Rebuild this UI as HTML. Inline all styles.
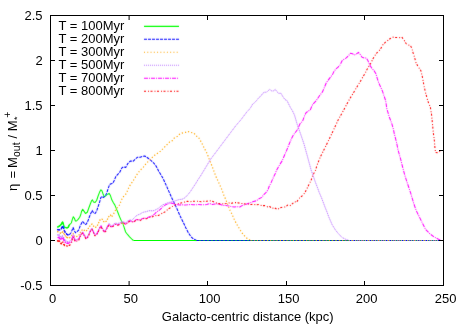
<!DOCTYPE html>
<html><head><meta charset="utf-8">
<style>
html,body{margin:0;padding:0;background:#fff;}
svg{display:block;}
text{font-family:"Liberation Sans",sans-serif;font-size:13.0px;fill:#000;}
</style></head>
<body>
<svg width="467" height="327" viewBox="0 0 467 327">
<rect width="467" height="327" fill="#fff"/>
<defs><filter id="bl" filterUnits="userSpaceOnUse" x="0" y="0" width="467" height="327"><feConvolveMatrix order="3" kernelMatrix="0.015 0.055 0.015 0.055 0.72 0.055 0.015 0.055 0.015" divisor="1" edgeMode="none" preserveAlpha="false"/></filter></defs>
<g fill="none" stroke-width="1.05" stroke-linejoin="round" filter="url(#bl)">
<path d="M57.3 227.2 L58.4 226.7 L59.8 225.8 L61.2 224.4 L61.9 223.0 L62.6 222.1 L63.2 223.5 L63.7 225.8 L64.4 227.2 L65.8 227.6 L67.1 227.9 L68.3 227.2 L69.2 224.9 L70.3 224.0 L71.3 223.0 L72.2 219.9 L73.3 216.7 L74.4 218.3 L75.4 221.0 L76.5 221.0 L78.1 219.4 L79.7 217.2 L80.8 214.5 L81.5 211.6 L82.7 209.2 L84.3 211.6 L85.5 213.5 L87.3 212.2 L88.8 208.0 L90.4 203.7 L91.6 200.6 L92.5 199.9 L93.5 202.1 L95.1 202.4 L96.6 200.5 L98.1 196.0 L99.6 192.1 L100.9 189.8 L101.9 190.6 L103.0 193.7 L104.2 196.7 L105.7 196.0 L107.3 194.4 L109.1 193.4 L110.3 195.2 L111.8 199.8 L113.4 202.8 L114.9 205.1 L116.4 208.9 L118.0 212.7 L119.5 216.6 L121.0 220.0 L122.9 223.7 L124.3 227.8 L125.6 232.0 L127.7 234.7 L129.6 236.8 L132.2 239.5 L133.5 240.5" stroke="#00ff00"/>
<path d="M57.3 227.2 L58.4 226.7 L59.8 225.8 L61.2 224.4 L61.9 223.0 L62.6 222.1 L63.2 223.5 L63.7 225.8 L64.4 227.2 L65.8 227.6 L67.1 227.9 L68.3 227.2 L69.2 224.9" stroke="#00ff00" stroke-width="1.4"/>
<path d="M57.3 229.5 L58.4 229.9 L59.8 229.7 L61.2 228.8 L62.1 227.2 L62.8 225.8 L63.5 227.6 L64.1 229.9 L64.8 231.8 L65.8 233.1 L67.1 234.5 L68.5 235.0 L69.9 234.3 L71.1 232.7 L73.1 227.4 L74.1 230.1 L75.4 232.8 L77.0 231.7 L78.7 230.1 L80.0 226.3 L81.2 223.9 L82.4 221.4 L83.7 222.6 L84.9 224.5 L86.4 223.9 L88.0 220.8 L89.5 216.5 L91.0 212.9 L92.2 210.4 L93.5 212.7 L95.1 213.5 L96.6 211.2 L98.1 206.6 L99.6 202.1 L100.9 197.5 L101.9 196.3 L103.5 197.5 L105.0 196.0 L106.5 193.7 L108.0 189.1 L109.6 184.5 L111.1 183.7 L112.6 183.4 L114.1 180.7 L115.7 176.9 L117.3 174.8 L119.6 172.5 L121.9 167.9 L123.4 166.9 L125.7 167.5 L128.0 163.3 L130.3 161.1 L133.3 161.1 L135.6 158.8 L137.6 157.2 L140.2 157.2 L142.5 156.5 L144.8 156.0 L147.1 157.5 L149.4 159.1 L151.7 161.1 L154.0 163.3 L156.3 166.4 L158.6 171.0 L160.9 174.8 L163.2 178.6 L164.1 180.7 L166.9 186.9 L169.6 193.1 L172.4 199.3 L175.1 204.8 L177.9 210.9 L180.6 217.1 L183.4 222.6 L185.9 228.0 L188.5 233.0 L190.9 236.6 L193.5 239.0 L196.5 240.5" stroke="#0000ff" stroke-dasharray="3 1"/>
<path d="M57.3 229.5 L58.4 229.9 L59.8 229.7 L61.2 228.8 L62.1 227.2 L62.8 225.8 L63.5 227.6 L64.1 229.9 L64.8 231.8 L65.8 233.1 L67.1 234.5 L68.5 235.0 L69.9 234.3" stroke="#0000ff" stroke-width="1.4" stroke-dasharray="3 1"/>
<path d="M57.3 231.3 L58.9 232.2 L60.3 233.1 L61.2 233.6 L62.1 232.2 L63.0 231.8 L63.9 233.6 L65.3 235.9 L66.7 237.3 L68.1 238.2 L69.4 237.7 L70.8 236.8 L72.2 234.9 L73.1 233.3 L74.4 236.0 L76.0 237.0 L77.6 236.0 L79.2 234.9 L80.0 233.0 L81.5 230.6 L83.1 229.4 L84.3 230.4 L85.9 231.2 L87.3 230.0 L89.2 226.9 L91.0 224.5 L92.2 224.2 L93.7 226.3 L95.3 227.5 L97.1 226.3 L98.4 223.3 L100.2 219.6 L102.0 219.0 L103.5 221.4 L105.1 222.3 L106.7 220.8 L107.3 219.6 L108.8 216.6 L110.3 215.0 L111.8 216.6" stroke="#ffa500" stroke-width="1.2" stroke-dasharray="1.3 1.5"/>
<path d="M111.8 216.6 L113.4 214.3 L114.9 211.2 L116.4 208.9 L118.0 206.6 L119.5 205.1 L121.0 201.3 L122.5 197.5 L124.1 196.0 L125.6 194.4 L126.5 193.2 L128.0 189.3 L130.3 184.8 L132.6 181.7 L134.9 177.9 L137.2 174.1 L140.2 170.2 L143.3 167.2 L146.3 163.3 L149.4 160.3 L152.5 157.2 L155.5 154.5 L158.6 152.6 L160.0 151.6 L162.8 148.9 L166.2 145.4 L169.6 142.0 L172.4 140.6 L174.4 137.9 L177.2 136.5 L179.3 134.4 L182.0 133.1 L185.4 132.4 L187.5 131.3 L190.9 132.4 L194.1 133.3 L195.8 135.8 L198.5 137.2 L199.9 139.9 L201.3 142.0 L202.9 145.4 L204.3 148.2 L206.1 151.6 L207.5 154.4 L208.4 157.1 L209.5 159.9 L210.9 163.3 L212.6 167.6 L215.7 176.0 L219.8 185.0 L221.9 189.8 L223.9 195.3 L226.0 200.1 L228.1 205.6 L230.1 210.4 L232.2 214.6 L234.3 219.4 L236.3 223.5 L238.4 227.0 L240.5 230.5 L243.0 234.2 L246.0 237.5 L249.0 239.5 L250.5 240.5" stroke="#ffa500" stroke-width="1.2" stroke-dasharray="1.2 2.07"/>
<path d="M57.3 231.3 L58.9 232.2 L60.3 233.1 L61.2 233.6 L62.1 232.2 L63.0 231.8 L63.9 233.6 L65.3 235.9 L66.7 237.3 L68.1 238.2 L69.4 237.7" stroke="#ffa500" stroke-width="1.4" stroke-dasharray="1 2.27"/>
<path d="M57.7 234.5 L58.4 235.9 L59.3 235.0 L60.3 236.8 L61.2 237.6 L62.1 235.9 L63.0 236.4 L63.9 238.3 L65.3 240.5 L66.7 241.8 L68.5 241.8 L70.3 240.8 L71.7 239.4 L72.2 237.0 L73.3 234.5 L74.4 237.8 L75.4 240.1 L77.0 239.3 L78.7 238.8 L80.0 235.9 L81.2 233.4 L82.7 231.9 L84.3 234.6 L85.9 237.7 L87.3 237.0 L88.8 234.0 L90.4 230.3 L92.0 228.2 L93.5 231.5 L94.9 234.6 L96.5 234.0 L98.1 230.9 L99.6 227.3 L101.1 225.4 L102.6 228.5 L104.1 230.9 L105.7 230.3 L107.1 226.9 L109.1 223.5 L111.2 226.2 L113.3 224.5 L115.3 223.0 L117.4 223.6 L119.4 223.0 L121.5 221.8 L123.6 221.8 L125.6 222.8 L127.7 221.0 L129.8 219.8 L131.8 220.5 L133.9 218.2 L135.9 216.1 L138.0 214.8 L140.1 214.1 L142.1 212.7 L144.2 212.0 L146.3 211.7 L148.3 210.9 L150.4 210.6 L152.5 210.9 L154.5 210.4 L156.6 209.3 L158.6 208.2 L160.0 206.8 L162.8 204.8 L165.5 203.7 L168.3 202.7 L171.0 202.0 L173.8 201.3 L176.5 200.4 L179.3 199.5 L182.0 199.3 L184.8 197.9 L187.5 195.1 L190.3 191.7 L193.0 187.6 L195.8 183.4 L197.8 180.0 L200.5 176.0 L205.6 167.6 L210.6 159.2 L215.7 152.5 L220.7 145.8 L225.8 139.0 L230.8 132.3 L235.9 125.6 L240.9 119.8 L245.0 114.4 L247.1 111.6 L249.1 109.6 L251.2 106.8 L252.6 104.1 L254.6 102.7 L256.7 100.4 L258.8 97.6 L260.8 96.2 L262.9 93.1 L264.9 92.1 L266.3 92.4 L267.7 91.0 L269.8 89.4 L271.8 91.0 L273.2 91.0 L275.3 89.4 L276.9 91.7 L278.7 93.3 L281.0 93.3 L282.8 96.5 L284.9 99.5 L287.0 100.6 L288.7 104.1 L290.4 107.5 L292.5 110.9 L294.5 115.1 L295.9 119.9 L297.3 124.7 L300.6 134.0 L304.0 144.0 L307.3 155.9 L311.1 170.0 L313.1 175.5 L315.2 181.7 L317.3 187.2 L319.3 192.7 L321.4 197.5 L323.5 203.0 L325.0 207.1 L327.0 212.0 L328.8 217.0 L332.2 224.8 L335.6 230.2 L338.9 234.3 L342.3 237.6 L345.7 239.3 L349.0 240.5" stroke="#c080ff" stroke-width="1" stroke-opacity="0.3"/>
<path d="M57.7 234.5 L58.4 235.9 L59.3 235.0 L60.3 236.8 L61.2 237.6 L62.1 235.9 L63.0 236.4 L63.9 238.3 L65.3 240.5 L66.7 241.8 L68.5 241.8 L70.3 240.8 L71.7 239.4 L72.2 237.0 L73.3 234.5 L74.4 237.8 L75.4 240.1 L77.0 239.3 L78.7 238.8 L80.0 235.9 L81.2 233.4 L82.7 231.9 L84.3 234.6 L85.9 237.7 L87.3 237.0 L88.8 234.0 L90.4 230.3 L92.0 228.2 L93.5 231.5 L94.9 234.6 L96.5 234.0 L98.1 230.9 L99.6 227.3 L101.1 225.4 L102.6 228.5 L104.1 230.9 L105.7 230.3 L107.1 226.9 L109.1 223.5 L111.2 226.2 L113.3 224.5 L115.3 223.0 L117.4 223.6 L119.4 223.0 L121.5 221.8 L123.6 221.8 L125.6 222.8 L127.7 221.0 L129.8 219.8 L131.8 220.5 L133.9 218.2 L135.9 216.1 L138.0 214.8 L140.1 214.1 L142.1 212.7 L144.2 212.0 L146.3 211.7 L148.3 210.9 L150.4 210.6 L152.5 210.9 L154.5 210.4 L156.6 209.3 L158.6 208.2 L160.0 206.8 L162.8 204.8 L165.5 203.7 L168.3 202.7 L171.0 202.0 L173.8 201.3 L176.5 200.4 L179.3 199.5 L182.0 199.3 L184.8 197.9 L187.5 195.1 L190.3 191.7 L193.0 187.6 L195.8 183.4 L197.8 180.0 L200.5 176.0 L205.6 167.6 L210.6 159.2 L215.7 152.5 L220.7 145.8 L225.8 139.0 L230.8 132.3 L235.9 125.6 L240.9 119.8 L245.0 114.4 L247.1 111.6 L249.1 109.6 L251.2 106.8 L252.6 104.1 L254.6 102.7 L256.7 100.4 L258.8 97.6 L260.8 96.2 L262.9 93.1 L264.9 92.1 L266.3 92.4 L267.7 91.0 L269.8 89.4 L271.8 91.0 L273.2 91.0 L275.3 89.4 L276.9 91.7 L278.7 93.3 L281.0 93.3 L282.8 96.5 L284.9 99.5 L287.0 100.6 L288.7 104.1 L290.4 107.5 L292.5 110.9 L294.5 115.1 L295.9 119.9 L297.3 124.7 L300.6 134.0 L304.0 144.0 L307.3 155.9 L311.1 170.0 L313.1 175.5 L315.2 181.7 L317.3 187.2 L319.3 192.7 L321.4 197.5 L323.5 203.0 L325.0 207.1 L327.0 212.0 L328.8 217.0 L332.2 224.8 L335.6 230.2 L338.9 234.3 L342.3 237.6 L345.7 239.3 L349.0 240.5" stroke="#c080ff" stroke-width="1" stroke-dasharray="1 1"/>
<path d="M57.7 234.5 L58.4 235.9 L59.3 235.0 L60.3 236.8 L61.2 237.6 L62.1 235.9 L63.0 236.4 L63.9 238.3 L65.3 240.5 L66.7 241.8 L68.5 241.8" stroke="#c080ff" stroke-width="1.4" stroke-dasharray="1 1"/>
<path d="M57.7 237.7 L58.9 237.3 L59.8 238.6 L61.2 239.6 L62.1 237.7 L63.0 238.2 L63.9 240.0 L65.3 242.3 L66.7 243.2 L68.5 243.2 L70.3 242.3 L71.7 240.9 L72.2 238.1 L73.3 235.4 L74.4 238.7 L75.4 240.8 L77.0 239.9 L78.7 239.4 L80.0 236.5 L81.2 234.1 L82.7 232.6 L84.3 235.3 L85.9 238.4 L87.3 237.7 L88.8 234.7 L90.4 231.0 L92.0 228.9 L93.5 232.2 L94.9 235.3 L96.5 234.7 L98.1 231.6 L99.6 228.0 L101.1 226.1 L102.6 229.2 L104.1 231.6 L105.7 231.0 L107.1 227.6 L109.1 224.2 L111.2 226.9 L113.3 225.8 L115.3 223.9 L117.4 224.9 L119.4 224.2 L121.5 222.8 L123.6 222.8 L125.6 224.2 L127.7 222.1 L129.8 220.7 L131.8 221.4 L133.9 221.7 L135.9 219.8 L138.0 219.4 L140.1 220.1 L142.1 218.7 L144.2 218.0 L146.3 218.4 L148.3 217.3 L150.4 216.6 L152.5 215.4 L154.5 214.1 L156.6 212.0 L158.6 210.6 L160.0 209.6 L162.8 206.8 L165.5 204.8 L168.3 203.7 L171.0 203.1 L173.8 203.7 L176.5 204.5 L179.3 205.0 L182.0 204.8 L184.8 205.0 L187.5 204.8 L190.3 204.5 L193.0 204.8 L195.8 204.8 L198.5 204.5 L201.3 204.8 L204.0 204.8 L206.8 204.5 L209.5 203.4 L212.3 204.5 L215.0 204.0 L217.8 204.0 L220.5 204.5 L223.3 205.4 L226.0 205.6 L228.8 205.9 L231.5 206.7 L234.3 207.0 L237.0 206.7 L239.8 207.0 L242.5 205.4 L245.3 204.5 L248.0 203.6 L250.8 202.6 L253.5 201.5 L256.3 200.8 L259.0 198.8 L261.8 197.4 L263.8 194.6 L265.9 192.6 L268.0 189.8 L269.1 186.5 L271.2 182.4 L273.3 177.6 L275.3 173.4 L276.7 170.0 L279.5 165.0 L282.1 160.9 L286.7 150.2 L289.2 144.0 L291.7 138.2 L293.4 135.0 L295.5 132.2 L297.6 129.5 L299.0 126.0 L300.1 123.6 L302.6 121.1 L304.3 116.5 L306.0 112.8 L308.0 111.2 L310.2 110.1 L311.5 107.0 L312.7 104.4 L316.1 100.9 L317.8 98.2 L319.5 95.8 L322.5 91.9 L326.4 82.6 L328.4 79.9 L330.5 77.1 L332.6 74.4 L333.9 71.6 L336.0 68.9 L338.1 67.2 L340.1 64.8 L342.2 60.6 L344.3 59.0 L346.3 57.9 L348.4 55.8 L350.4 53.3 L352.5 53.8 L354.6 54.9 L356.6 53.8 L358.4 52.4 L360.1 54.4 L362.1 57.2 L364.2 57.9 L366.3 57.9 L367.9 60.6 L369.7 64.8 L371.8 68.2 L373.8 70.3 L375.9 73.7 L377.3 78.5 L378.6 82.6 L382.3 90.7 L385.7 100.8 L386.8 108.6 L389.3 117.0 L391.8 123.7 L393.5 129.6 L394.2 133.4 L396.4 141.8 L398.1 150.2 L400.5 158.6 L402.6 167.0 L404.7 175.0 L407.5 183.6 L410.7 193.2 L413.9 203.9 L416.1 210.3 L419.3 216.8 L422.5 223.2 L425.7 229.6 L430.0 233.9 L434.3 237.1 L438.5 239.2 L441.1 240.3" stroke="#ff00ff" stroke-dasharray="4 1 1 1"/>
<path d="M57.7 237.7 L58.9 237.3 L59.8 238.6 L61.2 239.6 L62.1 237.7 L63.0 238.2 L63.9 240.0 L65.3 242.3 L66.7 243.2 L68.5 243.2" stroke="#ff00ff" stroke-width="1.4" stroke-dasharray="4 1 1 1"/>
<path d="M57.7 240.0 L58.4 242.3 L59.3 240.9 L60.3 242.8 L61.2 243.7 L62.1 241.4 L63.0 242.3 L63.9 244.6 L64.8 245.5 L66.2 245.1 L67.1 246.0 L68.5 245.5 L69.9 245.1 L71.3 244.0 L72.2 239.7 L73.3 236.9 L74.4 240.0 L75.4 242.0 L77.0 240.9 L78.7 240.2 L80.0 237.2 L81.2 234.6 L82.7 233.1 L84.3 235.8 L85.9 238.8 L87.3 238.2 L88.8 235.2 L90.4 231.4 L92.0 229.3 L93.5 232.7 L94.9 235.8 L96.5 235.2 L98.1 232.1 L99.6 228.4 L101.1 226.6 L102.6 229.7 L104.1 232.1 L105.7 231.4 L107.1 228.1 L109.1 224.7 L111.2 227.3 L113.3 226.2 L115.3 224.3 L117.4 225.3 L119.4 224.7 L121.5 223.2 L123.6 223.2 L125.6 224.7 L127.7 222.6 L129.8 221.2 L131.8 221.8 L133.9 222.2 L135.9 220.2 L138.0 219.8 L140.1 220.6 L142.1 219.2 L144.2 218.4 L146.3 218.8 L148.3 217.8 L150.4 217.1 L152.5 216.8 L154.5 215.4 L156.6 215.9 L158.6 215.4 L160.0 214.4 L162.8 213.0 L165.5 211.6 L168.3 208.9 L171.0 207.5 L173.8 205.4 L176.5 204.1 L179.3 203.4 L182.0 202.7 L184.8 202.0 L187.5 201.3 L190.3 201.7 L193.0 201.3 L195.8 201.3 L198.5 201.3 L201.3 201.7 L204.0 201.3 L206.8 201.3 L209.5 200.6 L212.3 201.3 L215.0 202.5 L217.8 203.6 L220.5 203.6 L223.3 204.0 L226.0 203.6 L228.8 202.9 L231.5 203.2 L234.3 202.6 L237.0 202.6 L239.8 203.2 L242.5 203.6 L245.3 204.0 L248.0 204.0 L250.8 204.5 L253.5 204.3 L256.3 204.9 L259.0 204.5 L261.8 205.6 L264.5 205.6 L267.8 206.9 L269.8 206.5 L271.9 208.5 L274.6 207.8 L277.4 209.6 L280.1 207.8 L282.9 207.1 L285.6 206.9 L287.7 205.1 L289.8 205.8 L292.5 203.7 L294.6 201.6 L296.6 202.3 L298.7 198.9 L300.8 196.8 L302.8 195.4 L304.9 192.7 L306.3 189.9 L307.6 187.2 L309.3 183.8 L311.1 180.3 L312.5 176.2 L313.8 173.4 L315.6 170.0 L317.0 165.3 L320.4 156.8 L323.8 150.1 L328.8 140.0 L333.5 130.0 L338.5 119.3 L343.6 110.2 L348.6 100.8 L353.7 92.4 L358.7 84.0 L360.8 80.6 L362.8 77.1 L364.9 73.7 L367.0 69.6 L369.0 66.1 L371.1 62.7 L373.1 58.6 L375.2 55.1 L377.3 52.4 L380.0 49.8 L382.8 44.9 L385.5 42.2 L388.3 40.1 L390.3 38.5 L392.4 37.1 L395.1 37.4 L398.6 37.7 L402.0 37.4 L404.1 40.1 L406.1 43.6 L408.2 44.9 L410.5 45.6 L411.9 48.4 L413.0 52.5 L414.1 55.9 L415.1 59.4 L416.0 62.8 L417.8 66.1 L420.9 70.7 L422.7 78.3 L424.0 86.0 L425.8 93.6 L427.9 101.3 L430.4 107.4 L431.6 115.0 L432.5 124.2 L433.4 133.4 L434.4 141.0 L435.0 148.7 L435.6 152.4 L438.0 152.7 L440.2 151.1 L441.0 151.1" stroke="#ff0000" stroke-dasharray="2 2 1 1.5"/>
<path d="M57.7 240.0 L58.4 242.3 L59.3 240.9 L60.3 242.8 L61.2 243.7 L62.1 241.4 L63.0 242.3 L63.9 244.6 L64.8 245.5 L66.2 245.1 L67.1 246.0 L68.5 245.5 L69.9 245.1" stroke="#ff0000" stroke-width="1.4" stroke-dasharray="2 2 1 1.5"/>
</g>
<g fill="none" stroke-width="1.2">
<path d="M133.5 240.5H443" stroke="#00ff00"/>
<path d="M196.5 240.5H443" stroke="#0000ff" stroke-dasharray="3 1" stroke-opacity="0.85"/>
<path d="M250.5 240.5H443" stroke="#ffa500" stroke-dasharray="1 2.27" stroke-opacity="0.85"/>
<path d="M349 240.5H443" stroke="#c080ff" stroke-dasharray="1 1" stroke-opacity="0.6"/>
</g>
<g stroke="#000" stroke-width="1" fill="none" shape-rendering="crispEdges">
<rect x="50.5" y="15.5" width="393" height="270"/>
<path d="M50 60.5H55M50 105.5H55M50 150.5H55M50 195.5H55M50 240.5H55"/>
<path d="M444 60.5H439M444 105.5H439M444 150.5H439M444 195.5H439M444 240.5H439"/>
<path d="M207.5 286V281M286.5 286V281M364.5 286V281"/>
<path d="M207.5 15V20M286.5 15V20M364.5 15V20"/>
<path d="M129.1 286V281M129.1 15V20" shape-rendering="auto"/>
</g>
<g opacity="0.999">
<text transform="translate(42.6,20.0) scale(1,1.05)" text-anchor="end">2.5</text>
<text transform="translate(42.6,65.0) scale(1,1.05)" text-anchor="end">2</text>
<text transform="translate(42.6,110.0) scale(1,1.05)" text-anchor="end">1.5</text>
<text transform="translate(42.6,155.0) scale(1,1.05)" text-anchor="end">1</text>
<text transform="translate(42.6,200.0) scale(1,1.05)" text-anchor="end">0.5</text>
<text transform="translate(42.6,245.0) scale(1,1.05)" text-anchor="end">0</text>
<text transform="translate(42.6,290.0) scale(1,1.05)" text-anchor="end">-0.5</text>
<text transform="translate(52.7,303) scale(1,1.05)" text-anchor="middle">0</text>
<text transform="translate(130.7,303) scale(1,1.05)" text-anchor="middle">50</text>
<text transform="translate(209.7,303) scale(1,1.05)" text-anchor="middle">100</text>
<text transform="translate(288.7,303) scale(1,1.05)" text-anchor="middle">150</text>
<text transform="translate(366.7,303) scale(1,1.05)" text-anchor="middle">200</text>
<text transform="translate(445.7,303) scale(1,1.05)" text-anchor="middle">250</text>
<text transform="translate(247.7,321.4) scale(1,1.05)" text-anchor="middle">Galacto-centric distance (kpc)</text>
<text transform="translate(17,191) rotate(-90) scale(1,1.05)"><tspan x="0">η</tspan><tspan x="12.5">=</tspan><tspan x="22.9">M</tspan><tspan x="34.1" dy="3.2" font-size="10.4px">out</tspan><tspan x="52.6" dy="-3.2">/</tspan><tspan x="59.8">M</tspan><tspan x="71" dy="3.2" font-size="9px">*</tspan><tspan x="73.2" dy="-9.4" font-size="10.4px">+</tspan></text>
<text transform="translate(58.5,29.9) scale(1,1.05)" text-anchor="start">T = 100Myr</text>
<text transform="translate(58.5,42.9) scale(1,1.05)" text-anchor="start">T = 200Myr</text>
<text transform="translate(58.5,55.9) scale(1,1.05)" text-anchor="start">T = 300Myr</text>
<text transform="translate(58.5,68.9) scale(1,1.05)" text-anchor="start">T = 500Myr</text>
<text transform="translate(58.5,81.9) scale(1,1.05)" text-anchor="start">T = 700Myr</text>
<text transform="translate(58.5,94.9) scale(1,1.05)" text-anchor="start">T = 800Myr</text>
</g>
<g fill="none" stroke-width="1.1" filter="url(#bl)">
<path d="M144 26.35H179" stroke="#00ff00"/>
<path d="M144 39.25H179" stroke="#0000ff" stroke-dasharray="3 1"/>
<path d="M144 52.25H179" stroke="#ffa500" stroke-dasharray="1 2.27"/>
<path d="M144 65.3H179" stroke="#c080ff" stroke-dasharray="1 1"/>
<path d="M144 78.3H179" stroke="#ff00ff" stroke-dasharray="4 1 1 1"/>
<path d="M144 91.25H179" stroke="#ff0000" stroke-dasharray="2 2 1 1.5"/>
</g>
</svg>
</body></html>
